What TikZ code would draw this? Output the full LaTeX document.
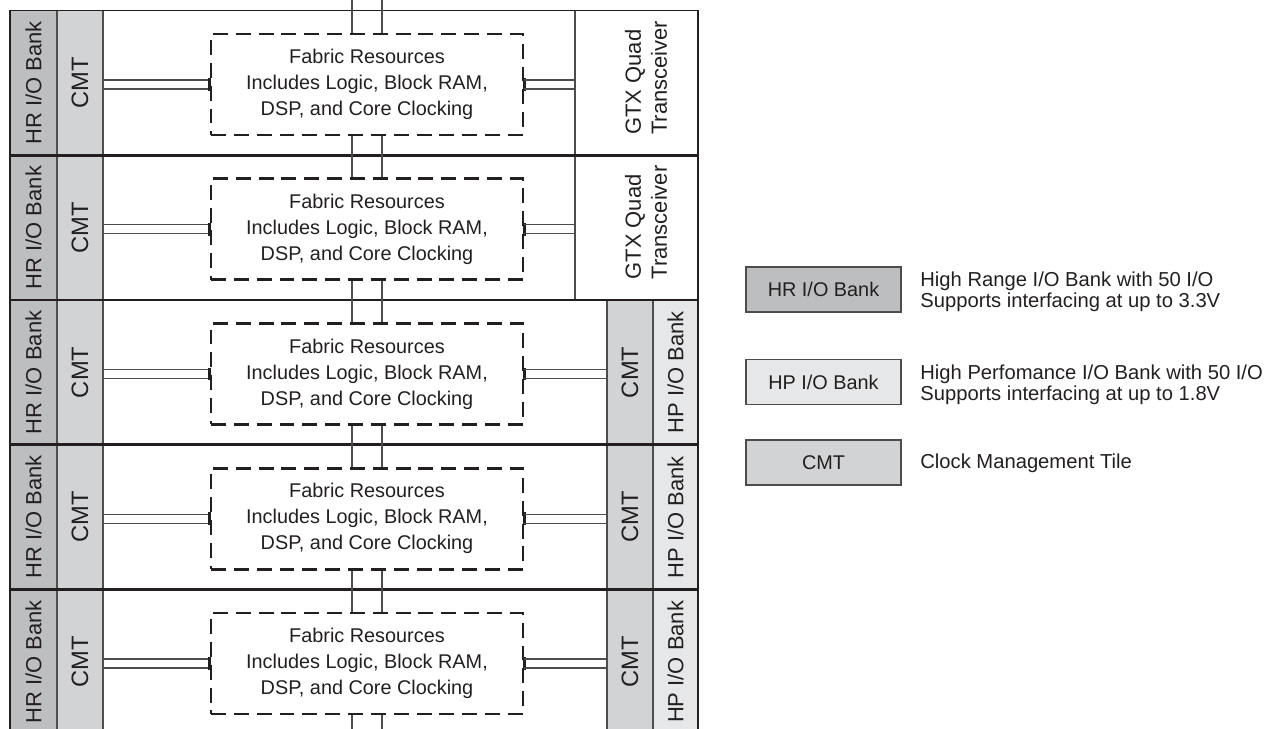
\documentclass[tikz,border=0pt]{standalone}
\usepackage{fontspec}
\setmainfont{Liberation Sans}
\definecolor{hrgray}{HTML}{BCBEC0}
\definecolor{cmtgray}{HTML}{D1D3D4}
\definecolor{hpgray}{HTML}{E6E7E8}
\definecolor{ink}{HTML}{231F20}
\begin{document}
\begin{tikzpicture}[x=0.02cm,y=-0.02cm,
	bank/.style={draw=ink!80,line width=0.7pt,rotate=90,inner sep=0pt,minimum width=2.895cm,text=ink,font=\fontsize{12.5}{15}\selectfont},
	fabric/.style={draw=ink,line width=1.5pt,dash pattern=on 8.5pt off 4.5pt,minimum width=6.24cm,minimum height=2.02cm,align=center,text=ink,font=\fontsize{11.3}{14.8}\selectfont},
	link/.style={draw=ink!80,line width=0.65pt},
	divider/.style={draw=ink,line width=1.7pt},
	key/.style={draw=ink!80,line width=0.7pt,minimum width=3.1cm,minimum height=0.9cm,text=ink,font=\fontsize{11.3}{13}\selectfont},
	keytext/.style={anchor=west,align=left,inner sep=0pt,text=ink,font=\fontsize{11.5}{12}\selectfont}]
		\clip(0,0) rectangle (1264,729);
		% rows of the device
		\foreach \i in {0,...,4}{
			\pgfmathsetmacro\t{10.5+144.75*\i}
			\pgfmathsetmacro\c{\t+72.375}
			\node[bank,fill=hrgray,minimum height=0.94cm,name=hr\i]at(33.5,\c){HR I/O Bank};
			\node[bank,fill=cmtgray,minimum height=0.92cm,font=\fontsize{13.5}{15}\selectfont,name=cmt\i]at(80,\c){CMT};
			\node[fabric,name=fab\i]at(367,\t+74){Fabric Resources\\Includes Logic, Block RAM,\\DSP, and Core Clocking};
			\draw[link]([yshift=0.09cm]fab\i.west -| cmt\i.south) -- ([yshift=0.09cm]fab\i.west);
			\draw[link]([yshift=-0.09cm]fab\i.west -| cmt\i.south) -- ([yshift=-0.09cm]fab\i.west);
			\draw[ink,line width=1.5pt]([yshift=0.13cm]fab\i.west) -- ([yshift=-0.13cm]fab\i.west);
			\draw[ink,line width=1.5pt]([yshift=0.13cm]fab\i.east) -- ([yshift=-0.13cm]fab\i.east);
		}
		% transceivers
		\foreach \i in {0,1}{
			\pgfmathsetmacro\t{10.5+144.75*\i}
			\node[draw=ink!80,line width=0.7pt,inner sep=0pt,minimum width=2.46cm,minimum height=2.895cm,name=gtx\i]at(636.5,\t+72.375){};
			\node[rotate=90,anchor=west,align=left,inner sep=0pt,text=ink,font=\fontsize{12.5}{14.8}\selectfont,name=gtxt\i]at(646,\t+124.5){GTX Quad\\Transceiver};
			\draw[link]([yshift=0.09cm]fab\i.east) -- ([yshift=0.09cm]fab\i.east -| gtx\i.west);
			\draw[link]([yshift=-0.09cm]fab\i.east) -- ([yshift=-0.09cm]fab\i.east -| gtx\i.west);
		}
		% HP banks
		\foreach \i in {2,3,4}{
			\pgfmathsetmacro\c{10.5+144.75*\i+72.375}
			\node[bank,fill=cmtgray,minimum height=0.92cm,font=\fontsize{13.5}{15}\selectfont,name=cmtr\i]at(630,\c){CMT};
			\node[bank,fill=hpgray,minimum height=0.9cm,name=hp\i]at(675.5,\c){HP I/O Bank};
			\draw[link]([yshift=0.09cm]fab\i.east) -- ([yshift=0.09cm]fab\i.east -| cmtr\i.north);
			\draw[link]([yshift=-0.09cm]fab\i.east) -- ([yshift=-0.09cm]fab\i.east -| cmtr\i.north);
		}
		\foreach \y in {155.25,300,444.75,589.5}
		\draw[divider](10,\y) -- (698,\y);
		\draw[ink,line width=1.1pt](10,740) -- (10,10.5) -- (698,10.5) -- (698,740);
		% vertical links
		\coordinate(topend)at(367,0);
		\coordinate(botend)at(367,729);
		\foreach \s in {-0.3,0.3}{
			\draw[link]([xshift=\s cm]topend) -- ([xshift=\s cm]fab0.north);
			\foreach \i/\j in {0/1,1/2,2/3,3/4}
			\draw[link]([xshift=\s cm]fab\i.south) -- ([xshift=\s cm]fab\j.north);
			\draw[link]([xshift=\s cm]fab4.south) -- ([xshift=\s cm]botend);
		}
		% legend
		\node[key,fill=hrgray,name=khr]at(823.5,289.5){HR I/O Bank};
		\node[keytext,name=thr]at(920,292){High Range I/O Bank with 50 I/O\\Supports interfacing at up to 3.3V};
		\node[key,fill=hpgray,name=khp]at(823.5,382){HP I/O Bank};
		\node[keytext,name=thp]at(920,385){High Perfomance I/O Bank with 50 I/O\\Supports interfacing at up to 1.8V};
		\node[key,fill=cmtgray,name=kcmt]at(823.5,462.5){CMT};
		\node[keytext,name=tcmt]at(920,463){Clock Management Tile};
	\end{tikzpicture}
\end{document}
